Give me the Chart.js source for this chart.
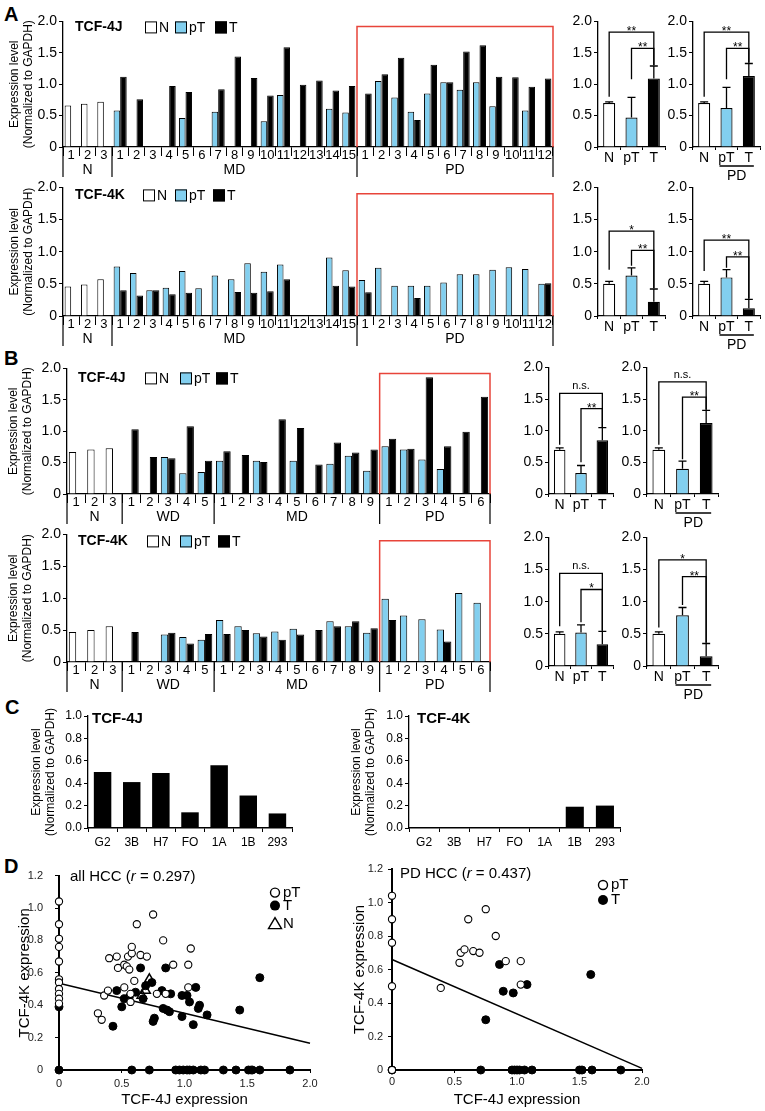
<!DOCTYPE html>
<html><head><meta charset="utf-8">
<script src="https://cdn.jsdelivr.net/npm/chart.js@4.4.1/dist/chart.umd.min.js"></script>
<style>
html,body{margin:0;padding:0;background:#fff}
body{width:765px;height:1111px;position:relative;overflow:hidden;font-family:"Liberation Sans",Arial,sans-serif}
canvas{position:absolute}
.lt{position:absolute;font-weight:bold;font-size:20px;line-height:20px;color:#000}
</style></head><body>
<div class="lt" style="left:4px;top:4px">A</div>
<div class="lt" style="left:4px;top:348px">B</div>
<div class="lt" style="left:5px;top:697px">C</div>
<div class="lt" style="left:4px;top:856px">D</div>
<script>
// ---------------- DATA ----------------
const _ = null;
const A_LABELS = ['1','2','3','1','2','3','4','5','6','7','8','9','10','11','12','13','14','15','1','2','3','4','5','6','7','8','9','10','11','12'];
const A_GROUPS = ['N','MD','PD'];
const A_SIZES = [3,15,12];
const A4J_N  = [0.66,0.69,0.72];
const A4J_pT = [_,_,_, 0.58,_,_,_,0.46,_,0.56,_,_,0.41,0.83,_,_,0.61,0.55, _,1.05,0.79,0.56,0.85,1.03,0.91,1.03,0.65,_,0.58,_];
const A4J_T  = [_,_,_, 1.12,0.76,_,0.97,0.875,_,0.92,1.44,1.10,0.82,1.59,0.99,1.06,0.90,0.97, 0.85,1.16,1.42,0.43,1.31,1.03,1.52,1.62,1.12,1.11,0.96,1.09];
const A4K_N  = [0.46,0.49,0.57];
const A4K_pT = [_,_,_, 0.77,0.67,0.40,0.44,0.70,0.43,0.63,0.57,0.82,0.69,0.80,_,_,0.91,0.71, 0.56,0.75,0.47,0.47,0.47,0.52,0.65,0.65,0.72,0.76,0.73,0.50];
const A4K_T  = [_,_,_, 0.40,0.32,0.40,0.34,0.36,_,_,0.375,0.36,0.385,0.57,_,_,0.47,0.46, 0.37,_,_,0.28,_,_,_,_,_,_,_,0.51];

const B_LABELS = ['1','2','3','1','2','3','4','5','1','2','3','4','5','6','7','8','9','1','2','3','4','5','6'];
const B_GROUPS = ['N','WD','MD','PD'];
const B_SIZES = [3,5,9,6];
const B4J_N  = [0.67,0.71,0.73];
const B4J_pT = [_,_,_, _,_,0.59,0.33,0.35, 0.53,_,0.53,_,0.53,_,0.48,0.61,0.37, 0.76,0.71,0.55,0.40,_,_];
const B4J_T  = [_,_,_, 1.03,0.59,0.57,1.08,0.53, 0.68,0.62,0.51,1.19,1.05,0.47,0.82,0.66,0.71, 0.88,0.72,1.86,0.76,0.99,1.55];
const B4K_N  = [0.47,0.50,0.56];
const B4K_pT = [_,_,_, _,_,0.43,0.39,0.35, 0.66,0.56,0.45,0.48,0.52,_,0.64,0.56,0.46, 0.99,0.73,0.67,0.51,1.08,0.93];
const B4K_T  = [_,_,_, 0.47,_,0.46,0.29,0.44, 0.44,0.50,0.40,0.35,0.43,0.50,0.56,0.64,0.53, 0.66,_,_,0.32,_,_];

const SUM_LABELS = ['N','pT','T'];
const A4J_S1 = [0.70,0.47,1.09], A4J_S1_ERR = [0.02,0.32,0.20];
const A4J_S2 = [0.70,0.62,1.13], A4J_S2_ERR = [0.02,0.33,0.20];
const A4K_S1 = [0.50,0.63,0.22], A4K_S1_ERR = [0.04,0.12,0.20];
const A4K_S2 = [0.50,0.60,0.12], A4K_S2_ERR = [0.04,0.12,0.14];
const B4J_S1 = [0.70,0.33,0.85], B4J_S1_ERR = [0.03,0.12,0.20];
const B4J_S2 = [0.70,0.40,1.12], B4J_S2_ERR = [0.03,0.12,0.20];
const B4K_S1 = [0.50,0.52,0.34], B4K_S1_ERR = [0.03,0.12,0.20];
const B4K_S2 = [0.50,0.79,0.15], B4K_S2_ERR = [0.03,0.12,0.20];
// significance brackets: [from, to, top, left leg end, right leg end, label]
const A4J_S1_SIG = [[0,2,1.83,0.80,1.30,'**'],[1,2,1.57,1.08,1.30,'**']];
const A4J_S2_SIG = [[0,2,1.83,0.80,1.34,'**'],[1,2,1.57,1.08,1.34,'**']];
const A4K_S1_SIG = [[0,2,1.32,0.72,0.43,'*'],[1,2,1.02,0.78,0.43,'**']];
const A4K_S2_SIG = [[0,2,1.18,0.70,0.27,'**'],[1,2,0.92,0.75,0.27,'**']];
const B4J_S1_SIG = [[0,2,1.59,0.78,1.06,'n.s.'],[1,2,1.35,0.50,1.06,'**']];
const B4J_S2_SIG = [[0,2,1.77,0.78,1.33,'n.s.'],[1,2,1.53,0.55,1.33,'**']];
const B4K_S1_SIG = [[0,2,1.44,0.62,0.55,'n.s.'],[1,2,1.19,0.68,0.55,'*']];
const B4K_S2_SIG = [[0,2,1.65,0.60,0.36,'*'],[1,2,1.39,0.95,0.36,'**']];

const C_LABELS = ['G2','3B','H7','FO','1A','1B','293'];
const C4J = [0.50,0.41,0.49,0.14,0.56,0.29,0.13];
const C4K = [0,0,0,0,0,0.19,0.20];

const D_ALL_PT = [[0,1.04],[0,0.90],[0,0.81],[0,0.76],[0,0.67],[0,0.56],[0,0.54],[0,0.50],[0,0.47],[0,0.44],[0,0.41],
 [0.31,0.35],[0.34,0.31],[0.36,0.46],[0.39,0.49],[0.40,0.69],[0.46,0.70],[0.47,0.63],[0.52,0.51],[0.52,0.65],[0.54,0.64],
 [0.55,0.70],[0.56,0.62],[0.57,0.47],[0.57,0.42],[0.58,0.72],[0.58,0.76],[0.60,0.55],[0.62,0.90],[0.65,0.71],[0.70,0.70],
 [0.75,0.96],[0.78,0.47],[0.83,0.80],[0.85,0.47],[0.91,0.65],[1.03,0.65],[1.05,0.75],[1.03,0.51]];
const D_ALL_T = [[0,0.39],[0,0],[0.43,0.27],[0.46,0.49],[0.50,0.39],[0.52,0.44],[0.56,0.45],[0.61,0.48],[0.65,0.63],[0.67,0.44],
 [0.69,0.52],[0.74,0.54],[0.75,0.30],[0.76,0.32],[0.82,0.49],[0.85,0.63],[0.83,0.38],[0.86,0.37],[0.88,0.36],[0.89,0.47],
 [0.98,0.46],[1.02,0.46],[1.04,0.42],[0.98,0.33],[1.07,0.28],[1.09,0.51],[1.11,0.38],[1.12,0.40],[1.18,0.34],[1.44,0.37],[1.60,0.57],
 [0.58,0],[0.72,0],[0.93,0],[0.96,0],[0.99,0],[1.02,0],[1.04,0],[1.07,0],[1.13,0],[1.16,0],[1.31,0],[1.41,0],[1.51,0],[1.54,0],[1.60,0],[1.84,0]];
const D_ALL_N = [[0.66,0.46],[0.69,0.49],[0.72,0.56]];
const D_ALL_FIT = [[0,0.535],[2,0.165]];
const D_PD_PT = [[0,1.04],[0,0.90],[0,0.76],[0,0.50],[0,0],[0.39,0.49],[0.54,0.64],[0.55,0.70],[0.58,0.72],[0.61,0.90],
 [0.65,0.71],[0.70,0.70],[0.75,0.96],[0.83,0.80],[0.91,0.65],[1.03,0.65],[1.03,0.51]];
const D_PD_T = [[0,0],[0.75,0.30],[0.86,0.63],[0.89,0.47],[0.97,0.46],[1.08,0.51],[1.59,0.57],[0.71,0],[0.96,0],[0.98,0],
 [1.00,0],[1.02,0],[1.06,0],[1.12,0],[1.50,0],[1.52,0],[1.60,0],[1.83,0]];
const D_PD_FIT = [[0,0.66],[2,0.01]];

// ---------------- STYLE ----------------
const FONT = '"Liberation Sans", Arial, Helvetica, sans-serif';
const BLUE = '#82cfef';
const RED = '#e8443a';
Chart.defaults.font.family = FONT;
Chart.defaults.color = '#000';

function mkCanvas(area, pad) {
  const c = document.createElement('canvas');
  const w = area[2]-area[0]+pad.l+pad.r, h = area[3]-area[1]+pad.t+pad.b;
  c.width = w; c.height = h;
  c.style.left = (area[0]-pad.l)+'px'; c.style.top = (area[1]-pad.t)+'px';
  c.style.width = w+'px'; c.style.height = h+'px';
  document.body.appendChild(c);
  return c;
}
function addChart(area, pad, cfg) {
  const c = mkCanvas(area, pad);
  const o = cfg.options;
  o.responsive = false; o.animation = false; o.devicePixelRatio = 1; o.events = [];
  o.layout = {padding:{left:0, top:pad.t, right:pad.r, bottom:0}};
  o.plugins = {legend:{display:false}, tooltip:{enabled:false}};
  o.scales.x.afterFit = s => { s.height = pad.b; };
  o.scales.y.afterFit = s => { s.width = pad.l; };
  return new Chart(c, cfg);
}
const yTitle = (pt, size) => ({display:true, text:['Expression level','(Normalized to GAPDH)'], font:{size:size||12}, padding:{top:pt, bottom:0}, color:'#000'});
const fmtHalf = v => v === 0 ? '0' : v.toFixed(1);

// ---------------- MAIN BAR CHARTS ----------------
function drawMain(chart, a) {
  const ctx = chart.ctx, xs = chart.scales.x, ys = chart.scales.y, ca = chart.chartArea;
  const cw = xs.getPixelForValue(1) - xs.getPixelForValue(0);
  const bnd = i => xs.getPixelForValue(0) - cw/2 + i*cw;
  const bounds = [0]; let s = 0;
  a.sizes.forEach(n => { s += n; bounds.push(s); });
  ctx.save();
  ctx.strokeStyle = '#000'; ctx.lineWidth = 1.2;
  bounds.forEach(b => { const x = bnd(b); ctx.beginPath(); ctx.moveTo(x, ca.bottom); ctx.lineTo(x, ca.bottom + 30); ctx.stroke(); });
  ctx.fillStyle = '#000'; ctx.font = '14px ' + FONT; ctx.textAlign = 'center'; ctx.textBaseline = 'middle';
  a.groups.forEach((g, k) => ctx.fillText(g, (bnd(bounds[k]) + bnd(bounds[k+1]))/2, ca.bottom + 23));
  // red frame around PD
  const x1 = bnd(bounds[bounds.length-2]), x2 = bnd(bounds[bounds.length-1]), yt = ys.getPixelForValue(a.redTop);
  ctx.strokeStyle = RED; ctx.lineWidth = 1.5;
  ctx.beginPath(); ctx.moveTo(x1, ca.bottom); ctx.lineTo(x1, yt); ctx.lineTo(x2, yt); ctx.lineTo(x2, ca.bottom); ctx.stroke();
  // legend
  const ly = ca.top + a.ly;
  ctx.textAlign = 'left'; ctx.font = 'bold 14px ' + FONT; ctx.fillStyle = '#000';
  ctx.fillText(a.title, ca.left + a.tx, ly);
  const fills = ['#fff', BLUE, '#000'], labs = ['N','pT','T'];
  ctx.lineWidth = 1; ctx.strokeStyle = '#000';
  a.bx.forEach((bx, i) => {
    const x = ca.left + bx;
    ctx.fillStyle = fills[i]; ctx.fillRect(x, ly - 6, 12, 12); ctx.strokeRect(x + 0.5, ly - 5.5, 11, 11);
    ctx.fillStyle = '#000'; ctx.font = '14px ' + FONT; ctx.fillText(labs[i], x + 14, ly + 1);
  });
  ctx.restore();
}
function mainChart(area, pad, labels, N, pT, T, ann) {
  const Nfull = labels.map((_, i) => i < N.length ? N[i] : null);
  return addChart(area, pad, {
    type:'bar',
    data:{labels, datasets:[
      {data:Nfull, stack:'a', backgroundColor:'#fff', borderColor:'#000', borderWidth:1},
      {data:pT, stack:'a', backgroundColor:BLUE, borderColor:'#000', borderWidth:1},
      {data:T, stack:'b', backgroundColor:'#000', borderColor:'#000', borderWidth:1}]},
    options:{
      datasets:{bar:{categoryPercentage:0.8, barPercentage:1}},
      scales:{
        x:{stacked:true, grid:{offset:true, drawOnChartArea:false, tickLength:9, color:'#000', lineWidth:1},
           border:{color:'#000', width:1.3},
           ticks:{autoSkip:false, maxRotation:0, minRotation:0, padding:-8, font:{size:13}, color:'#000'}},
        y:{stacked:true, min:0, max:2,
           ticks:{stepSize:0.5, font:{size:14}, padding:2, color:'#000', callback:fmtHalf},
           grid:{drawOnChartArea:false, tickLength:4, color:'#000'}, border:{color:'#000', width:1.3},
           title:yTitle(ann.titlePad)}
      }},
    plugins:[{id:'ann', afterDraw:c => drawMain(c, ann)}]
  });
}

// ---------------- SUMMARY CHARTS ----------------
function drawSum(chart, a) {
  const ctx = chart.ctx, xs = chart.scales.x, ys = chart.scales.y, ca = chart.chartArea;
  const vals = chart.data.datasets[0].data;
  ctx.save(); ctx.strokeStyle = '#000'; ctx.lineWidth = 1.3; ctx.fillStyle = '#000';
  vals.forEach((v, i) => {
    const x = xs.getPixelForValue(i), y0 = ys.getPixelForValue(v), y1 = ys.getPixelForValue(v + a.err[i]);
    ctx.beginPath(); ctx.moveTo(x, y0); ctx.lineTo(x, y1); ctx.moveTo(x - 4, y1); ctx.lineTo(x + 4, y1); ctx.stroke();
  });
  a.sig.forEach(([i, j, top, lb, rb, txt]) => {
    const x1 = xs.getPixelForValue(i), x2 = xs.getPixelForValue(j), yt = ys.getPixelForValue(top);
    ctx.beginPath(); ctx.moveTo(x1, ys.getPixelForValue(lb)); ctx.lineTo(x1, yt); ctx.lineTo(x2, yt); ctx.lineTo(x2, ys.getPixelForValue(rb)); ctx.stroke();
    ctx.textAlign = 'center'; ctx.textBaseline = 'alphabetic';
    if (txt === 'n.s.') { ctx.font = '11px ' + FONT; ctx.fillText(txt, (x1+x2)/2, yt - 4); }
    else { ctx.font = '12px ' + FONT; ctx.fillText(txt, (x1+x2)/2, yt + 3); }
  });
  if (a.pd) {
    const xa = xs.getPixelForValue(1) - 7, xb = xs.getPixelForValue(2) + 5;
    ctx.beginPath(); ctx.moveTo(xa, ca.bottom + 19); ctx.lineTo(xb, ca.bottom + 19); ctx.stroke();
    ctx.font = '14px ' + FONT; ctx.textAlign = 'center'; ctx.textBaseline = 'middle';
    ctx.fillText('PD', (xa + xb)/2, ca.bottom + 29);
  }
  ctx.restore();
}
function sumChart(area, vals, err, sig, pd) {
  const pad = {l:28, t:10, r:4, b:40};
  return addChart(area, pad, {
    type:'bar',
    data:{labels:SUM_LABELS, datasets:[{data:vals, backgroundColor:['#fff', BLUE, '#000'], borderColor:'#000', borderWidth:1.2,
      categoryPercentage:1, barPercentage:0.54}]},
    options:{scales:{
      x:{grid:{offset:true, drawOnChartArea:false, tickLength:3, color:'#000'}, border:{color:'#000', width:1.3},
         ticks:{padding:0, font:{size:14}, color:'#000', autoSkip:false, maxRotation:0, minRotation:0}},
      y:{min:0, max:2, ticks:{stepSize:0.5, font:{size:14}, padding:2, color:'#000', callback:fmtHalf},
         grid:{drawOnChartArea:false, tickLength:4, color:'#000'}, border:{color:'#000', width:1.3}}}},
    plugins:[{id:'ann', afterDraw:c => drawSum(c, {err, sig, pd})}]
  });
}

// ---------------- C BAR CHARTS ----------------
function cChart(area, pad, vals, title, tx, tpad) {
  return addChart(area, pad, {
    type:'bar',
    data:{labels:C_LABELS, datasets:[{data:vals, backgroundColor:'#000', borderWidth:0, categoryPercentage:1, barPercentage:0.6}]},
    options:{scales:{
      x:{grid:{offset:true, drawOnChartArea:false, tickLength:4, color:'#000'}, border:{color:'#000', width:1.4},
         ticks:{padding:3, font:{size:12}, color:'#000', autoSkip:false, maxRotation:0, minRotation:0}},
      y:{min:0, max:1, ticks:{stepSize:0.2, font:{size:12}, padding:2, color:'#000', callback:v => v.toFixed(1)},
         grid:{drawOnChartArea:false, tickLength:4, color:'#000'}, border:{color:'#000', width:1.3},
         title:yTitle(tpad, 12)}}},
    plugins:[{id:'ann', afterDraw:c => {
      const ctx = c.ctx, ca = c.chartArea; ctx.save();
      ctx.font = 'bold 15px ' + FONT; ctx.fillStyle = '#000'; ctx.textBaseline = 'middle'; ctx.textAlign = 'left';
      ctx.fillText(title, ca.left + tx, ca.top + 3); ctx.restore();
    }}]
  });
}

// ---------------- D SCATTER ----------------
function drawScatter(chart, a) {
  const ctx = chart.ctx, ca = chart.chartArea;
  ctx.save(); ctx.fillStyle = '#000'; ctx.textBaseline = 'middle'; ctx.textAlign = 'left';
  let x = ca.left + a.tx; const y = ca.top + a.ty;
  a.title.forEach(([t, it]) => { ctx.font = (it ? 'italic ' : '') + '15px ' + FONT; ctx.fillText(t, x, y); x += ctx.measureText(t).width; });
  a.leg.forEach(([kind, dy, label]) => {
    const lx = ca.left + a.lx, ly = ca.top + dy;
    ctx.lineWidth = 1.4; ctx.strokeStyle = '#000';
    ctx.beginPath();
    if (kind === 'o') { ctx.arc(lx, ly, 4.5, 0, Math.PI*2); ctx.fillStyle = '#fff'; ctx.fill(); ctx.stroke(); }
    else if (kind === 'f') { ctx.arc(lx, ly, 5, 0, Math.PI*2); ctx.fillStyle = '#000'; ctx.fill(); }
    else { ctx.moveTo(lx, ly - 6); ctx.lineTo(lx + 6.5, ly + 5); ctx.lineTo(lx - 6.5, ly + 5); ctx.closePath(); ctx.stroke(); }
    ctx.fillStyle = '#000'; ctx.font = '15px ' + FONT; ctx.fillText(label, lx + 8, ly);
  });
  ctx.restore();
}
const toXY = arr => arr.map(([x, y]) => ({x, y}));
function dChart(area, pad, pT, T, N, fit, ann, yPadTick, xPadTick) {
  const ds = [
    {type:'scatter', data:toXY(pT), pointStyle:'circle', pointRadius:3.6, pointBackgroundColor:'#fff', pointBorderColor:'#000', pointBorderWidth:1.1, clip:false},
    {type:'scatter', data:toXY(T), pointStyle:'circle', pointRadius:4, pointBackgroundColor:'#000', pointBorderColor:'#000', pointBorderWidth:1, clip:false}];
  if (N) ds.push({type:'scatter', data:toXY(N), pointStyle:'triangle', pointRadius:5.5, pointBackgroundColor:'rgba(255,255,255,0)', pointBorderColor:'#000', pointBorderWidth:1.5, clip:false});
  ds.push({type:'line', data:toXY(fit), borderColor:'#000', borderWidth:1.5, pointRadius:0, fill:false, clip:false});
  return addChart(area, pad, {
    type:'scatter',
    data:{datasets:ds},
    options:{scales:{
      x:{type:'linear', min:0, max:2, ticks:{stepSize:0.5, callback:fmtHalf, font:{size:11}, color:'#222', padding:xPadTick},
         grid:{drawOnChartArea:false, tickLength:3, color:'#000'}, border:{color:'#000', width:2},
         title:{display:true, text:'TCF-4J expression', font:{size:15}, padding:{top:0, bottom:1}, color:'#000'}},
      y:{type:'linear', min:0, max:1.2, ticks:{stepSize:0.2, callback:fmtHalf, font:{size:11}, color:'#222', padding:yPadTick},
         grid:{drawOnChartArea:false, tickLength:4, color:'#000'}, border:{color:'#000', width:2},
         title:{display:true, text:'TCF-4K expression', font:{size:15}, padding:{top:ann.ytp, bottom:0}, color:'#000'}}}},
    plugins:[{id:'ann', afterDraw:c => drawScatter(c, ann)}]
  });
}

// ---------------- BUILD ----------------
// Panel A
mainChart([63,21,553,147], {l:63, t:10, r:6, b:36}, A_LABELS, A4J_N, A4J_pT, A4J_T,
  {groups:A_GROUPS, sizes:A_SIZES, redTop:1.92, title:'TCF-4J', tx:12, ly:6, bx:[82,112,152], titlePad:7});
sumChart([598,21,665,147], A4J_S1, A4J_S1_ERR, A4J_S1_SIG, false);
sumChart([693,21,760,147], A4J_S2, A4J_S2_ERR, A4J_S2_SIG, true);
mainChart([63,187,553,316], {l:63, t:10, r:6, b:36}, A_LABELS, A4K_N, A4K_pT, A4K_T,
  {groups:A_GROUPS, sizes:A_SIZES, redTop:1.90, title:'TCF-4K', tx:12, ly:8, bx:[80,112,150], titlePad:7});
sumChart([598,187,665,316], A4K_S1, A4K_S1_ERR, A4K_S1_SIG, false);
sumChart([693,187,760,316], A4K_S2, A4K_S2_ERR, A4K_S2_SIG, true);
// Panel B
mainChart([67,368,490,494], {l:67, t:10, r:6, b:36}, B_LABELS, B4J_N, B4J_pT, B4J_T,
  {groups:B_GROUPS, sizes:B_SIZES, redTop:1.92, title:'TCF-4J', tx:11, ly:10, bx:[78,113,149], titlePad:6});
sumChart([549,367,613,494], B4J_S1, B4J_S1_ERR, B4J_S1_SIG, false);
sumChart([647,367,718,494], B4J_S2, B4J_S2_ERR, B4J_S2_SIG, true);
mainChart([67,534,490,662], {l:67, t:10, r:6, b:36}, B_LABELS, B4K_N, B4K_pT, B4K_T,
  {groups:B_GROUPS, sizes:B_SIZES, redTop:1.90, title:'TCF-4K', tx:11, ly:7, bx:[80,113,151], titlePad:6});
sumChart([549,537,613,666], B4K_S1, B4K_S1_ERR, B4K_S1_SIG, false);
sumChart([647,537,718,666], B4K_S2, B4K_S2_ERR, B4K_S2_SIG, true);
// Panel C
cChart([88,716,292,828], {l:66, t:10, r:6, b:30}, C4J, 'TCF-4J', 4, 7);
cChart([409,716,620,828], {l:69, t:10, r:6, b:30}, C4K, 'TCF-4K', 8, 9);
// Panel D
dChart([59,869,310,1070], {l:59, t:12, r:14, b:40}, D_ALL_PT, D_ALL_T, D_ALL_N, D_ALL_FIT,
  {tx:11, ty:1, title:[['all HCC (',0],['r',1],[' = 0.297)',0]], lx:216, leg:[['o',17,'pT'],['f',30,'T'],['t',48,'N']], ytp:16}, 12, 4);
dChart([392,869,642,1070], {l:57, t:12, r:14, b:40}, D_PD_PT, D_PD_T, null, D_PD_FIT,
  {tx:8, ty:5, title:[['PD HCC (',0],['r',1],[' = 0.437)',0]], lx:211, leg:[['o',16,'pT'],['f',31,'T']], ytp:16}, 5, 2);
</script>
</body></html>
